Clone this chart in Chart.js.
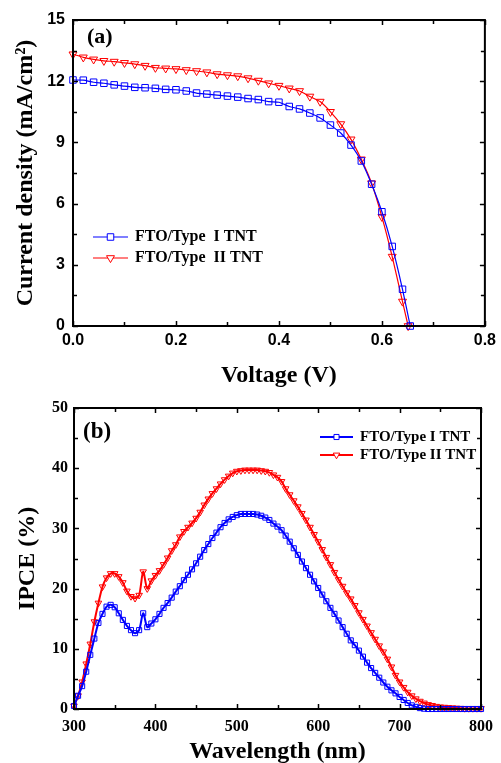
<!DOCTYPE html>
<html>
<head>
<meta charset="utf-8">
<script src="https://cdn.jsdelivr.net/npm/chart.js@4.4.1/dist/chart.umd.min.js"></script>
<style>
  html, body { margin: 0; padding: 0; background: #fff; overflow: hidden; }
  body { width: 501px; height: 763px; position: relative; }
  canvas { position: absolute; left: 0; }
  #jv { top: 0; }
  #ipce { top: 392px; }
</style>
</head>
<body>
<canvas id="jv" width="501" height="392"></canvas>
<canvas id="ipce" width="501" height="380"></canvas>
<script>
// (a) J-V curves
var voltageTypeI = [0, 0.02, 0.04, 0.06, 0.08, 0.10, 0.12, 0.14, 0.16, 0.18, 0.20, 0.22, 0.24, 0.26, 0.28, 0.30, 0.32,
  0.34, 0.36, 0.38, 0.40, 0.42, 0.44, 0.46, 0.48, 0.50, 0.52, 0.54, 0.56, 0.58, 0.60, 0.62, 0.64, 0.655];
var currentTypeI = [12.06, 12.05, 11.95, 11.9, 11.82, 11.76, 11.7, 11.68, 11.65, 11.6, 11.58, 11.52, 11.42, 11.37, 11.32, 11.27, 11.22,
  11.15, 11.1, 11.0, 10.97, 10.76, 10.64, 10.44, 10.2, 9.85, 9.46, 8.87, 8.09, 6.95, 5.6, 3.9, 1.8, 0];
var voltageTypeII = [0, 0.02, 0.04, 0.06, 0.08, 0.10, 0.12, 0.14, 0.16, 0.18, 0.20, 0.22, 0.24, 0.26, 0.28, 0.30, 0.32,
  0.34, 0.36, 0.38, 0.40, 0.42, 0.44, 0.46, 0.48, 0.50, 0.52, 0.54, 0.56, 0.58, 0.60, 0.62, 0.64, 0.651];
var currentTypeII = [13.32, 13.17, 13.07, 13.0, 12.96, 12.9, 12.84, 12.76, 12.66, 12.63, 12.6, 12.55, 12.5, 12.44, 12.35, 12.3, 12.25,
  12.15, 12.03, 11.9, 11.78, 11.65, 11.52, 11.25, 11.0, 10.5, 9.9, 9.15, 8.17, 7.0, 5.35, 3.4, 1.2, 0];

// (b) IPCE spectra, 300-800 nm every 5 nm
var wavelength = [300, 305, 310, 315, 320, 325, 330, 335, 340, 345, 350, 355, 360, 365, 370, 375, 380, 385, 390, 395,
  400, 405, 410, 415, 420, 425, 430, 435, 440, 445, 450, 455, 460, 465, 470, 475, 480, 485, 490, 495,
  500, 505, 510, 515, 520, 525, 530, 535, 540, 545, 550, 555, 560, 565, 570, 575, 580, 585, 590, 595,
  600, 605, 610, 615, 620, 625, 630, 635, 640, 645, 650, 655, 660, 665, 670, 675, 680, 685, 690, 695,
  700, 705, 710, 715, 720, 725, 730, 735, 740, 745, 750, 755, 760, 765, 770, 775, 780, 785, 790, 795, 800];
var ipceTypeI = [0.5, 2.2, 3.8, 6.2, 9.0, 11.7, 14.3, 15.8, 17.0, 17.3, 16.9, 15.9, 14.8, 13.8, 13.1, 12.6, 13.1, 15.9, 13.6, 14.2,
  14.9, 15.8, 16.8, 17.6, 18.5, 19.5, 20.4, 21.4, 22.3, 23.2, 24.2, 25.3, 26.4, 27.4, 28.4, 29.3, 30.2, 30.9, 31.5, 31.9,
  32.2, 32.4, 32.4, 32.4, 32.4, 32.3, 32.1, 31.8, 31.4, 30.8, 30.3, 29.7, 28.8, 27.8, 26.7, 25.6, 24.5, 23.4, 22.3, 21.2,
  20.1, 19.0, 17.9, 16.8, 15.8, 14.7, 13.6, 12.5, 11.4, 10.6, 9.7, 8.7, 7.7, 6.8, 6.0, 5.2, 4.4, 3.7, 3.1, 2.6,
  2.0, 1.5, 1.0, 0.6, 0.35, 0.15, 0.05, 0, 0, 0, 0, 0, 0, 0, 0, 0, 0, 0, 0, 0, 0];
var ipceTypeII = [0.5, 2.2, 4.5, 7.5, 10.8, 14.5, 17.6, 20.3, 21.8, 22.5, 22.5, 22.0, 21.0, 19.6, 18.7, 18.4, 18.9, 22.8, 20.0, 21.3,
  22.2, 23.0, 24.0, 25.1, 26.3, 27.3, 28.6, 29.5, 30.2, 30.9, 31.7, 32.7, 33.9, 34.9, 35.8, 36.6, 37.4, 38.1, 38.7, 39.2,
  39.5, 39.6, 39.7, 39.7, 39.7, 39.7, 39.6, 39.5, 39.3, 38.9, 38.5, 37.8, 36.6, 35.6, 34.6, 33.6, 32.5, 31.4, 30.2, 29.0,
  27.8, 26.5, 25.2, 24.0, 22.7, 21.5, 20.4, 19.3, 18.3, 17.2, 16.0, 14.9, 13.8, 12.7, 11.6, 10.5, 9.5, 8.3, 7.0, 5.6,
  4.5, 3.6, 2.8, 2.2, 1.7, 1.3, 1.0, 0.75, 0.6, 0.45, 0.35, 0.3, 0.25, 0.2, 0.15, 0.12, 0.1, 0.1, 0.1, 0.1, 0.1];

var seriesLabels = ['FTO/Type  I TNT', 'FTO/Type  II TNT'];
var seriesLabelsB = ['FTO/Type I TNT', 'FTO/Type II TNT'];

var BLUE = '#0000ff';
var RED = '#ff0000';
var SERIF = '"Liberation Serif", "Times New Roman", serif';
var SANS = '"Liberation Sans", Arial, sans-serif';

function toPoints(xs, ys) {
  return xs.map(function (x, i) { return {x: x, y: ys[i]}; });
}

// frame, inward ticks on all four sides, legend and panel tag
var decorations = {
  id: 'decorations',
  afterDraw: function (chart, args, opts) {
    var ctx = chart.ctx, a = chart.chartArea;
    var xs = chart.scales.x, ys = chart.scales.y;
    ctx.save();
    ctx.strokeStyle = '#000';
    ctx.lineWidth = 1.5;
    xs.ticks.forEach(function (t) {
      var px = Math.round(xs.getPixelForValue(t.value)) + 0.5;
      var len = t.label !== '' ? 5 : 4;
      ctx.beginPath();
      ctx.moveTo(px, a.bottom); ctx.lineTo(px, a.bottom - len);
      ctx.moveTo(px, a.top); ctx.lineTo(px, a.top + len);
      ctx.stroke();
    });
    ys.ticks.forEach(function (t) {
      var py = Math.round(ys.getPixelForValue(t.value)) + 0.5;
      var len = t.label !== '' ? 5 : 4;
      ctx.beginPath();
      ctx.moveTo(a.left, py); ctx.lineTo(a.left + len, py);
      ctx.moveTo(a.right, py); ctx.lineTo(a.right - len, py);
      ctx.stroke();
    });
    ctx.lineWidth = 2;
    ctx.strokeRect(a.left, a.top, a.right - a.left, a.bottom - a.top);

    // panel tag
    ctx.fillStyle = '#000';
    ctx.font = opts.tagFont;
    ctx.textAlign = 'left';
    ctx.textBaseline = 'middle';
    ctx.fillText(opts.tag, opts.tagX, opts.tagY);

    // legend
    ctx.font = opts.legendFont;
    chart.data.datasets.forEach(function (ds, i) {
      var y = opts.legendY + i * opts.legendGap;
      ctx.strokeStyle = ds.borderColor;
      ctx.lineWidth = opts.legendLine;
      ctx.beginPath();
      ctx.moveTo(opts.legendX, y);
      ctx.lineTo(opts.legendX + opts.legendLen, y);
      ctx.stroke();
      ctx.lineWidth = 1;
      ctx.fillStyle = '#ffffff';
      ctx.strokeStyle = ds.pointBorderColor;
      Chart.helpers.drawPoint(ctx, {
        pointStyle: ds.pointStyle,
        radius: ds.pointRadius,
        rotation: ds.pointRotation || 0,
        borderWidth: 1
      }, opts.legendX + opts.legendLen / 2, y);
      ctx.fillStyle = '#000';
      ctx.fillText(ds.label, opts.legendX + opts.legendLen + 7, y);
    });
    ctx.restore();
  }
};

new Chart(document.getElementById('jv'), {
  type: 'scatter',
  data: {
    datasets: [{
      label: seriesLabels[0],
      data: toPoints(voltageTypeI, currentTypeI),
      showLine: true,
      borderColor: BLUE,
      borderWidth: 1.2,
      backgroundColor: 'transparent',
      pointStyle: 'rect',
      pointRadius: 4.6,
      pointBorderWidth: 1,
      pointBorderColor: BLUE,
      tension: 0.2,
      clip: 8
    }, {
      label: seriesLabels[1],
      data: toPoints(voltageTypeII, currentTypeII),
      showLine: true,
      borderColor: RED,
      borderWidth: 1.2,
      backgroundColor: 'transparent',
      pointStyle: 'triangle',
      pointRotation: 180,
      pointRadius: 4.6,
      pointBorderWidth: 1,
      pointBorderColor: RED,
      tension: 0.2,
      clip: 8
    }]
  },
  options: {
    responsive: false,
    animation: false,
    events: [],
    layout: {padding: {top: 20, right: 11, left: 0, bottom: 0}},
    plugins: {
      legend: {display: false},
      tooltip: {enabled: false},
      decorations: {
        tag: '(a)', tagX: 87, tagY: 37, tagFont: 'bold 22px ' + SERIF,
        legendX: 93, legendY: 237, legendGap: 21, legendLen: 35, legendLine: 1.2,
        legendFont: 'bold 16px ' + SERIF
      }
    },
    scales: {
      x: {
        type: 'linear', min: 0, max: 0.8,
        grid: {display: false, drawTicks: false},
        border: {display: false},
        afterFit: function (s) { s.height = 66; },
        ticks: {
          stepSize: 0.1, autoSkip: false, maxRotation: 0, padding: 5, color: '#000',
          font: {family: SANS, size: 16, weight: 'bold'},
          callback: function (v) { return Math.round(v * 10) % 2 === 0 ? v.toFixed(1) : ''; }
        },
        title: {
          display: true, text: 'Voltage (V)', color: '#000',
          font: {family: SERIF, size: 24, weight: 'bold'},
          padding: {top: 0, bottom: 2}
        }
      },
      y: {
        type: 'linear', min: 0, max: 15,
        grid: {display: false, drawTicks: false},
        border: {display: false},
        afterFit: function (s) { s.width = 73; },
        ticks: {
          stepSize: 1.5, autoSkip: false, padding: 8, color: '#000',
          font: {family: SANS, size: 16, weight: 'bold'},
          callback: function (v) { return v % 3 === 0 ? String(v) : ''; }
        },
        title: {
          display: true, text: 'Current density (mA/cm²)', color: '#000',
          font: {family: SERIF, size: 24, weight: 'bold'},
          padding: {top: 11, bottom: 0}
        }
      }
    }
  },
  plugins: [decorations]
});

new Chart(document.getElementById('ipce'), {
  type: 'scatter',
  data: {
    datasets: [{
      label: seriesLabelsB[0],
      data: toPoints(wavelength, ipceTypeI),
      showLine: true,
      borderColor: BLUE,
      borderWidth: 2,
      backgroundColor: 'transparent',
      pointStyle: 'rect',
      pointRadius: 3.6,
      pointBorderWidth: 1,
      pointBorderColor: BLUE,
      tension: 0.3,
      clip: 8
    }, {
      label: seriesLabelsB[1],
      data: toPoints(wavelength, ipceTypeII),
      showLine: true,
      borderColor: RED,
      borderWidth: 2,
      backgroundColor: 'transparent',
      pointStyle: 'triangle',
      pointRotation: 180,
      pointRadius: 3.8,
      pointBorderWidth: 1,
      pointBorderColor: RED,
      tension: 0.3,
      clip: 8
    }]
  },
  options: {
    responsive: false,
    animation: false,
    events: [],
    layout: {padding: {top: 16, right: 14, left: 0, bottom: 0}},
    plugins: {
      legend: {display: false},
      tooltip: {enabled: false},
      decorations: {
        tag: '(b)', tagX: 83, tagY: 40, tagFont: 'bold 23px ' + SERIF,
        legendX: 320, legendY: 45, legendGap: 18, legendLen: 33, legendLine: 2,
        legendFont: 'bold 15px ' + SERIF
      }
    },
    scales: {
      x: {
        type: 'linear', min: 300, max: 800,
        grid: {display: false, drawTicks: false},
        border: {display: false},
        afterFit: function (s) { s.height = 63; },
        ticks: {
          stepSize: 50, autoSkip: false, maxRotation: 0, padding: 8, color: '#000',
          font: {family: SERIF, size: 16, weight: 'bold'},
          callback: function (v) { return v % 100 === 0 ? String(v) : ''; }
        },
        title: {
          display: true, text: 'Wavelength (nm)', color: '#000',
          font: {family: SERIF, size: 24, weight: 'bold'},
          padding: {top: 0, bottom: 6}
        }
      },
      y: {
        type: 'linear', min: 0, max: 50,
        grid: {display: false, drawTicks: false},
        border: {display: false},
        afterFit: function (s) { s.width = 74; },
        ticks: {
          stepSize: 5, autoSkip: false, padding: 6, color: '#000',
          font: {family: SERIF, size: 16, weight: 'bold'},
          callback: function (v) { return v % 10 === 0 ? String(v) : ''; }
        },
        title: {
          display: true, text: 'IPCE (%)', color: '#000',
          font: {family: SERIF, size: 24, weight: 'bold'},
          padding: {top: 13, bottom: 0}
        }
      }
    }
  },
  plugins: [decorations]
});
</script>
</body>
</html>
